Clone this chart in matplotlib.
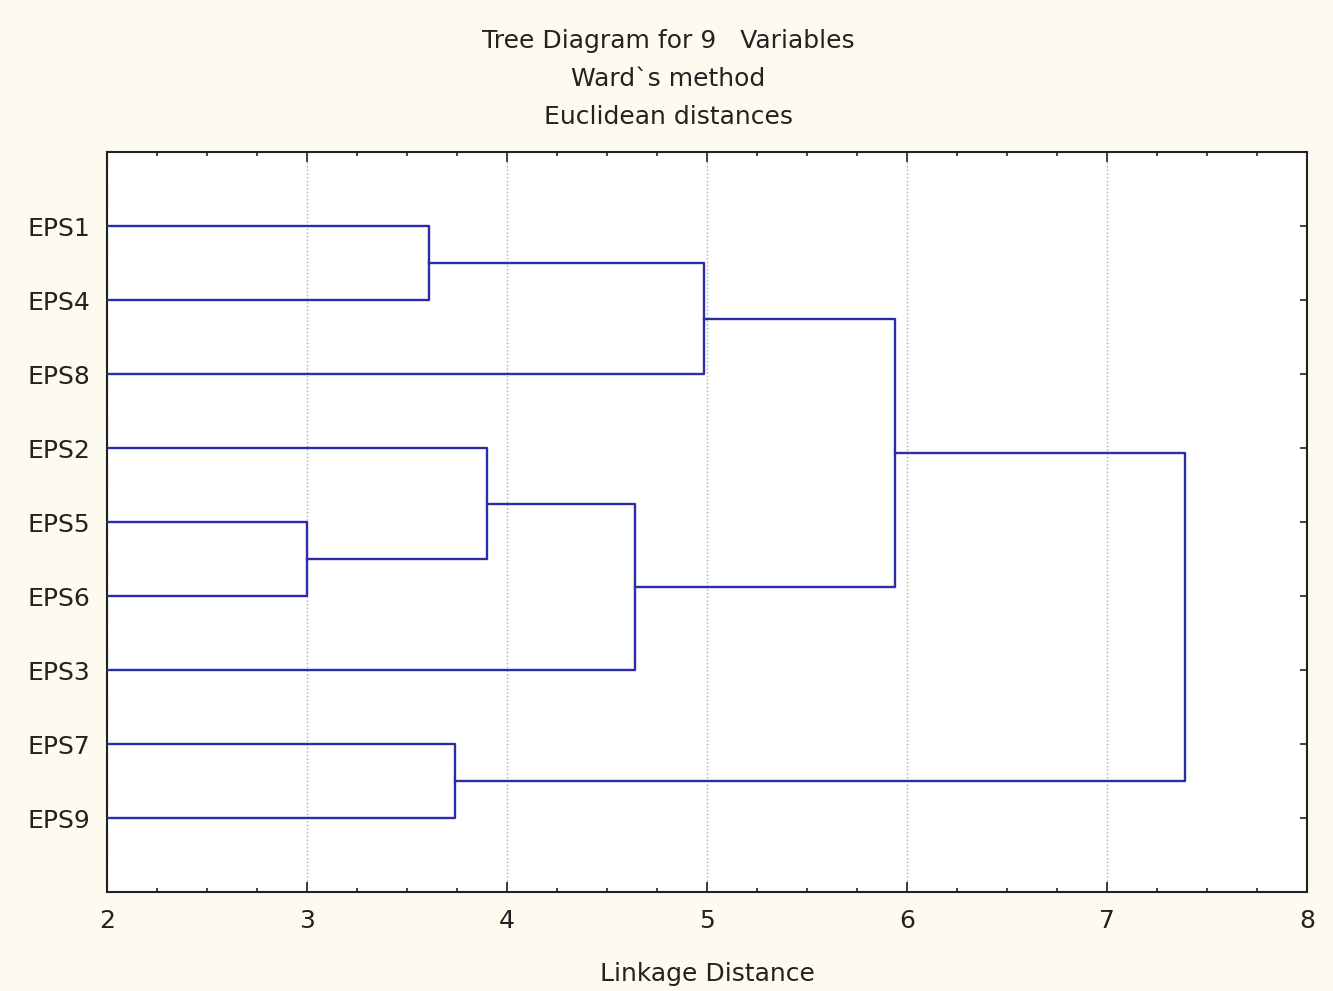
import matplotlib.pyplot as plt
from matplotlib.ticker import MultipleLocator

# leaves top to bottom
leaves = ['EPS1', 'EPS4', 'EPS8', 'EPS2', 'EPS5', 'EPS6', 'EPS3', 'EPS7', 'EPS9']

# merges: (left cluster, right cluster, linkage distance)
# clusters are leaf names or the index of an earlier merge
merges = [
    ('EPS5', 'EPS6', 3.00),
    ('EPS1', 'EPS4', 3.61),
    ('EPS7', 'EPS9', 3.74),
    ('EPS2', 0, 3.90),
    (3, 'EPS3', 4.64),
    (1, 'EPS8', 4.985),
    (5, 4, 5.94),
    (6, 2, 7.39),
]

plt.rcParams['font.family'] = ['DejaVu Sans']
fs = 18
txt_col = '#222222'
fig = plt.figure(figsize=(13.33, 9.91), dpi=100, facecolor='#fdfaf0')
ax = fig.add_axes([0.0803, 0.0999, 0.9002, 0.7467])
ax.set_facecolor('white')

line_col = '#2c2ca4'
base = 2.0

pos = {name: i + 1 for i, name in enumerate(leaves)}
node_y = {}
node_x = {}

def get(c):
    if isinstance(c, str):
        return base, pos[c]
    return node_x[c], node_y[c]

for k, (a, b, d) in enumerate(merges):
    xa, ya = get(a)
    xb, yb = get(b)
    ax.plot([xa, d, d, xb], [ya, ya, yb, yb], color=line_col, lw=1.7, zorder=3)
    node_x[k] = d
    node_y[k] = (ya + yb) / 2

ax.set_xlim(2, 8)
ax.set_ylim(10, 0)
ax.set_yticks(range(1, len(leaves) + 1))
ax.set_yticklabels(leaves)
ax.xaxis.set_major_locator(MultipleLocator(1))
ax.xaxis.set_minor_locator(MultipleLocator(0.25))
ax.tick_params(axis='both', which='both', direction='in', top=True, right=True,
               labelsize=fs, colors=txt_col)
ax.tick_params(axis='x', which='major', length=7, width=1.2, pad=12)
ax.tick_params(axis='x', which='minor', length=3, width=1.2)
ax.tick_params(axis='y', which='major', length=5, width=1.2, pad=12)
for s in ax.spines.values():
    s.set_linewidth(1.5)
    s.set_color(txt_col)

ax.grid(axis='x', which='major', color='#aaaaaa', linestyle=':', lw=1.0, zorder=0)

ax.set_xlabel('Linkage Distance', fontsize=fs, color=txt_col, labelpad=21)

title_lines = ['Tree Diagram for 9   Variables', 'Ward`s method', 'Euclidean distances']
for i, t in enumerate(title_lines):
    fig.text(0.5015, 1 - (41 + 38 * i) / 991, t, ha='center', va='center',
             fontsize=fs, color=txt_col)

fig.savefig('out.png', dpi=100, facecolor=fig.get_facecolor())
